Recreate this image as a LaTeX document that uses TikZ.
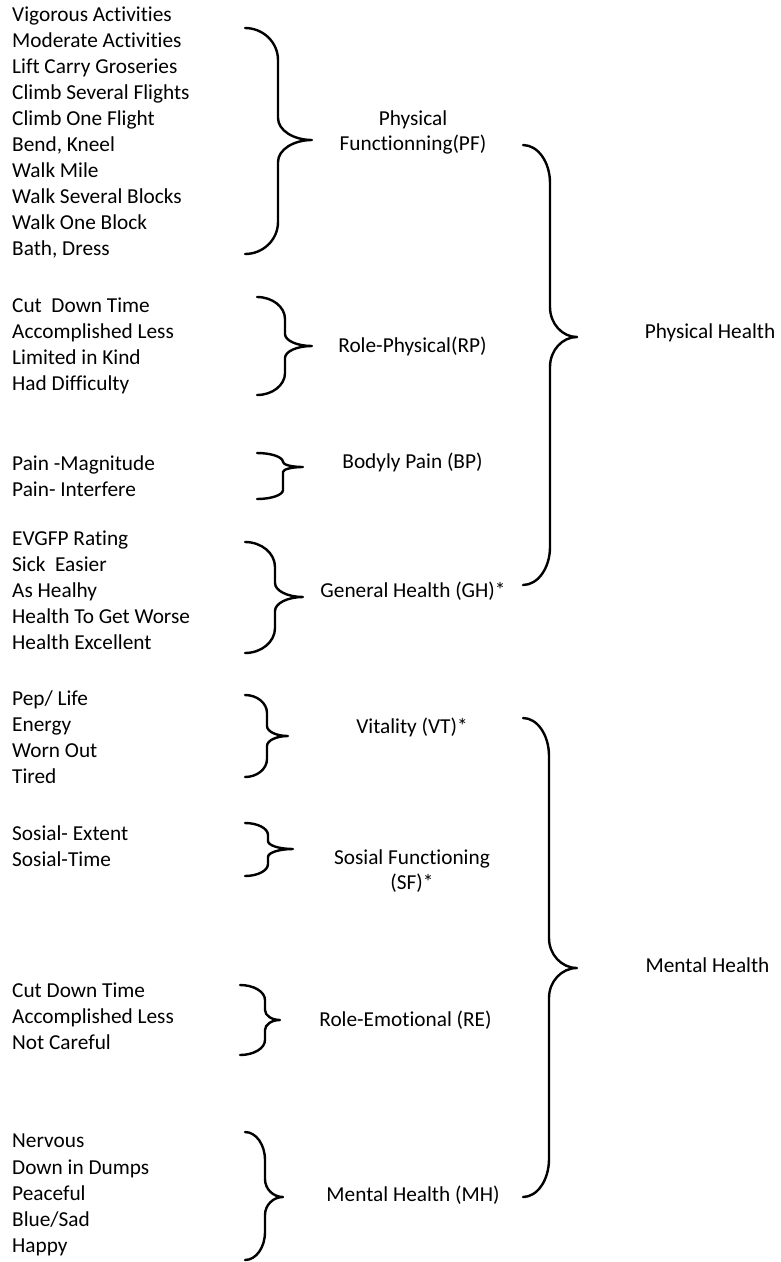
\documentclass[tikz,border=0pt]{standalone}
\usepackage{fontspec}
\setmainfont{Carlito}[RawFeature={-liga;-clig}]
\newcommand\cbr[8]{%
\draw[bracestyle] (#1,#4) .. controls ({#1+0.552*(#2-#1)},#4) and (#2,{#4+0.448*#7}) .. (#2,{#4+#7})
 -- (#2,{#5-#8}) .. controls (#2,{#5-0.448*#8}) and ({#2+0.448*(#3-#2)},#5) .. (#3,#5)
 .. controls ({#2+0.448*(#3-#2)},#5) and (#2,{#5+0.448*#8}) .. (#2,{#5+#8})
 -- (#2,{#6-#7}) .. controls (#2,{#6-0.448*#7}) and ({#1+0.552*(#2-#1)},#6) .. (#1,#6);}
\tikzset{
  bracestyle/.style={line width=2.4pt, line cap=round, line join=round, black},
  itemlist/.style={anchor=west, align=left, inner sep=0pt, font=\fontsize{21.3}{26.1}\selectfont},
  lbl/.style={anchor=center, align=center, inner sep=0pt, font=\fontsize{21.3}{25}\selectfont},
}
\begin{document}
\begin{tikzpicture}[x=1pt,y=-1pt]
\useasboundingbox (0,0) rectangle (780,1262);
% item lists
\node[itemlist] (pfl) at (12,132.5) {Vigorous Activities\\Moderate Activities\\Lift Carry Groseries\\Climb Several Flights\\Climb One Flight\\Bend, Kneel\\Walk Mile\\Walk Several Blocks\\Walk One Block\\Bath, Dress};
\node[itemlist] (rpl) at (12,346) {Cut\ \ Down Time\\Accomplished Less\\Limited in Kind\\Had Difficulty};
\node[itemlist] (bpl) at (12,476) {Pain -Magnitude\\Pain- Interfere};
\node[itemlist] (ghl) at (12,590.5) {EVGFP Rating\\Sick\ \ Easier\\As Healhy\\Health To Get Worse\\Health Excellent};
\node[itemlist] (vtl) at (12,737.5) {Pep/ Life\\Energy\\Worn Out\\Tired};
\node[itemlist] (sfl) at (12,846) {Sosial- Extent\\Sosial-Time};
\node[itemlist] (rel) at (12,1016.5) {Cut Down Time\\Accomplished Less\\Not Careful};
\node[itemlist] (mhl) at (12,1195) {Nervous\\Down in Dumps\\Peaceful\\Blue/Sad\\Happy};
% small braces
\cbr{245}{278}{312}{28}{140}{254}{32}{22}
\cbr{257}{285}{312}{297}{346}{395}{22}{12}
\cbr{257}{283}{303}{453}{467}{499}{9}{5}
\cbr{245}{275}{303}{542}{597}{653}{25}{14}
\cbr{245}{267}{288}{695}{736}{777}{18}{10}
\cbr{245}{268}{293}{823}{849}{876}{12}{8}
\cbr{240}{265}{280}{985}{1020}{1055}{15}{10}
\cbr{245}{265}{283}{1132}{1197}{1260}{28}{18}
% scale labels
\node[lbl] (pf) at (413,132.5) {Physical\\Functionning(PF)};
\node[lbl] (rp) at (412.5,346) {Role-Physical(RP)};
\node[lbl] (bp) at (412.5,462) {Bodyly Pain (BP)};
\node[lbl] (gh) at (413,591) {General Health (GH)*};
\node[lbl] (vt) at (412,727) {Vitality (VT)*};
\node[lbl] (sf) at (412,871) {Sosial Functioning\\(SF)*};
\node[lbl] (re) at (405.5,1020) {Role-Emotional (RE)};
\node[lbl] (mh) at (413,1195) {Mental Health (MH)};
% big braces
\cbr{523}{550}{577}{145}{337}{585}{38}{30}
\cbr{523}{549}{577}{718}{968}{1197}{38}{30}
\node[lbl] (ph) at (710,333) {Physical Health};
\node[lbl] (mth) at (707.5,965) {Mental Health};
\end{tikzpicture}
\end{document}
